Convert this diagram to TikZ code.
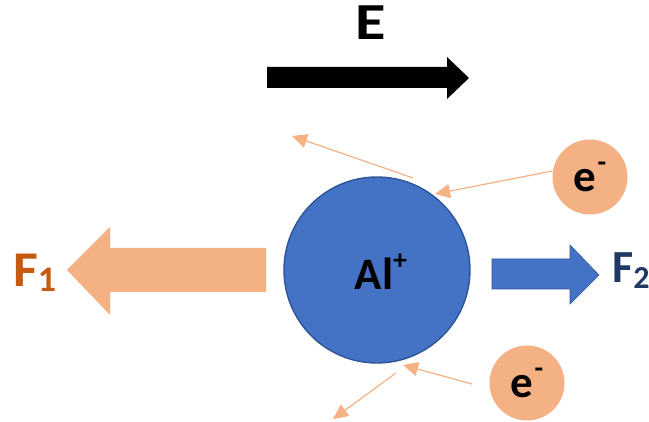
\documentclass[tikz,border=0pt]{standalone}
\usepackage{fontspec}
\setmainfont{Carlito}
\usetikzlibrary{arrows.meta}
\definecolor{ionblue}{HTML}{4472C4}
\definecolor{ionedge}{HTML}{2F5597}
\definecolor{elorange}{HTML}{F4B183}
\definecolor{fone}{HTML}{C55A11}
\definecolor{ftwo}{HTML}{203864}
\tikzset{
  ion/.style={circle, fill=ionblue, draw=ionedge, line width=1.4pt, minimum size=186pt, inner sep=0pt},
  ionlabel/.style={inner sep=0pt, font=\bfseries\fontsize{45}{45}\selectfont},
  electron/.style={circle, fill=elorange, minimum size=75pt, inner sep=0pt,
    font=\bfseries\fontsize{45}{45}\selectfont},
  path/.style={draw=elorange, line width=1.2pt, -{Triangle[length=15pt,width=14pt]}},
  flabel/.style={font=\bfseries\fontsize{50}{50}\selectfont, anchor=base west, inner sep=0pt},
}
\begin{document}
\begin{tikzpicture}[x=1pt,y=-1pt]
\useasboundingbox (0,0) rectangle (649,422);

% field E
\node[anchor=base west, inner sep=0pt, font=\bfseries\fontsize{52}{52}\selectfont] (elabel) at (355,40) {\scalebox{1.2}[1]{E}};
\fill[black] (267,67) -- (447,67) -- (447,57) -- (469,78) -- (447,99) -- (447,88) -- (267,88) -- cycle;

% force on the ion from the electrons
\fill[elorange] (266,248) -- (110,248) -- (110,227) -- (67,270) -- (110,315) -- (110,292) -- (266,292) -- cycle;
\node[flabel, text=fone] (f1) at (13,287) {\scalebox{1.08}[1]{F}\fontsize{36}{36}\selectfont\raisebox{-5pt}{1}};

% force of the field on the ion
\filldraw[fill=ionblue, draw=ionedge, line width=0.6pt] (492,259) -- (570,259) -- (570,245) -- (599,275) -- (570,304) -- (570,289) -- (492,289) -- cycle;
\node[flabel, text=ftwo, font=\bfseries\fontsize{46}{46}\selectfont] (f2) at (612,283) {F\fontsize{32}{32}\selectfont\raisebox{-6pt}{2}};

% aluminium ion
\node[ion] (al) at (377,270) {};
\node[ionlabel] (altext) at ([xshift=4pt,yshift=-2pt]al.center) {Al\raisebox{20pt}{\fontsize{28}{28}\selectfont +}};

% electrons
\node[electron] (e1) at (590,177) {e\kern1pt\raisebox{20pt}{\fontsize{28}{28}\selectfont -}};
\node[electron] (e2) at (527,383) {e\kern1pt\raisebox{20pt}{\fontsize{28}{28}\selectfont -}};

% scattering paths
\coordinate (in1) at (435,194);
\coordinate (out1s) at (413,178);
\coordinate (out1e) at (292,136);
\coordinate (in2) at (403,365);
\coordinate (out2s) at (396,373);
\coordinate (out2e) at (333,419);
\draw[path] (e1.west |- 0,171) -- (in1);
\draw[path] (out1s) -- (out1e);
\draw[path] (472,384) -- (in2);
\draw[path] (out2s) -- (out2e);
\end{tikzpicture}
\end{document}
